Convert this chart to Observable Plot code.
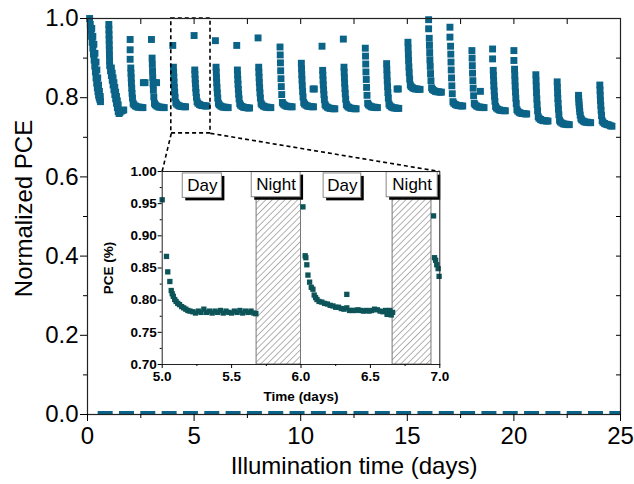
<!DOCTYPE html>
<html><head><meta charset="utf-8">
<script src="https://cdn.jsdelivr.net/npm/d3@7"></script>
<script src="https://cdn.jsdelivr.net/npm/@observablehq/plot@0.6"></script>
<style>
body{margin:0;background:#fff;}
#wrap{position:relative;width:634px;height:484px;}
#wrap svg{position:absolute;}
</style></head><body><div id="wrap"></div>
<script>
const FONT = '"Liberation Sans", Arial, Helvetica, sans-serif';
const BLUE = "#0b6388";
const TEAL = "#0c5458";

// ---- main chart data ----
const xTitle = "Illumination time (days)";
const yTitle = "Normalized PCE";
const majorX = [0, 5, 10, 15, 20, 25];
const minorX = [2.5, 7.5, 12.5, 17.5, 22.5];
const topX = [2.5, 5, 7.5, 10, 12.5, 15, 17.5, 20, 22.5];
const majorY = [0, 0.2, 0.4, 0.6, 0.8, 1.0];
const minorY = [0.1, 0.3, 0.5, 0.7, 0.9];
const rightY = [0.1, 0.2, 0.3, 0.4, 0.5, 0.6, 0.7, 0.8, 0.9];

// first two days (time, value)
const earlyTimes = [0.10,0.13,0.16,0.19,0.22,0.25,0.28,0.31,0.34,0.37,0.40,0.43,0.46,0.49,0.52,0.55,0.58,0.61,
  0.20,0.25,0.30,0.35,0.40,0.44,0.48,0.52,0.56,0.60,
  1.000,1.005,1.010,1.015,1.020,1.025,1.030,1.035,1.040,
  1.08,1.12,1.16,1.20,1.24,1.28,1.32,1.36,1.40,1.44,1.48,
  1.12,1.16,1.20,1.24,1.28,1.32,1.36,1.40,1.44,
  1.52,1.58,1.64,1.70];
const earlyValues = [1.000,0.985,0.970,0.955,0.940,0.925,0.910,0.895,0.880,0.865,0.850,0.837,0.825,0.815,0.806,0.800,0.795,0.790,
  0.975,0.955,0.935,0.912,0.890,0.870,0.850,0.832,0.816,0.803,
  0.985,0.972,0.959,0.946,0.933,0.920,0.907,0.894,0.881,
  0.868,0.856,0.844,0.832,0.820,0.808,0.797,0.786,0.775,0.765,0.760,
  0.875,0.862,0.850,0.838,0.826,0.814,0.803,0.792,0.782,
  0.763,0.766,0.768,0.769];

// daily cycles from day 2 to day 24
const cycleDays = [2,3,4,5,6,7,8,9,10,11,12,13,14,15,16,17,18,19,20,21,22,23,24];
const columnOffsets = [0.03,0.04,0.05,0.06,0.075,0.09,0.11,0.14];
const footOffsets = [0.18,0.25,0.32,0.39,0.46,0.53,0.60];
const peakValues = [
  [0.947,0.921,0.897],[0.947],[0.932],[0.957],[0.944],[0.932],[0.951],[],[],[0.930],[0.948],[],[],[],
  [0.997,0.974],[0.978,0.953],[],[0.923,0.898],[0.919,0.894],[],[],[],[]];
const columnValues = [
  [.875,.862,.850,.837,.824,.811,.799,.786],
  [.900,.884,.867,.851,.835,.819,.802,.786],
  [.877,.864,.852,.839,.826,.814,.801,.788],
  [.870,.859,.847,.836,.824,.813,.801,.790],
  [.877,.864,.851,.838,.825,.812,.799,.786],
  [.870,.858,.846,.834,.821,.809,.797,.785],
  [.877,.864,.851,.838,.825,.812,.799,.786],
  [.928,.908,.888,.868,.848,.828,.808,.788],
  [.887,.873,.859,.845,.830,.816,.802,.788],
  [.869,.857,.844,.832,.820,.808,.795,.783],
  [.877,.864,.850,.837,.823,.810,.796,.783],
  [.925,.905,.885,.865,.846,.826,.806,.786],
  [.886,.871,.857,.842,.828,.813,.799,.784],
  [.940,.925,.909,.894,.878,.863,.847,.832],
  [.950,.932,.914,.896,.879,.861,.843,.825],
  [.930,.910,.890,.870,.850,.830,.810,.790],
  [.919,.900,.881,.862,.843,.824,.805,.786],
  [.869,.856,.843,.830,.817,.804,.791,.778],
  [.872,.857,.843,.828,.814,.799,.785,.770],
  [.858,.843,.828,.813,.797,.782,.767,.752],
  [.840,.826,.812,.798,.785,.771,.757,.743],
  [.806,.798,.789,.781,.773,.765,.756,.748],
  [.832,.819,.806,.793,.781,.768,.755,.742]];
const footValues = [
  [.782,.779,.777,.776,.776,.775,.775],
  [.782,.779,.777,.776,.776,.775,.775],
  [.784,.781,.779,.778,.778,.777,.777],
  [.786,.783,.781,.780,.780,.779,.779],
  [.782,.779,.777,.776,.776,.775,.775],
  [.781,.778,.776,.775,.775,.774,.774],
  [.782,.779,.777,.776,.776,.775,.775],
  [.784,.781,.779,.778,.778,.777,.777],
  [.784,.781,.779,.778,.778,.777,.777],
  [.779,.776,.774,.773,.773,.772,.772],
  [.779,.776,.774,.773,.773,.772,.772],
  [.782,.779,.777,.776,.776,.775,.775],
  [.780,.777,.775,.774,.774,.773,.773],
  [.828,.825,.823,.822,.822,.821,.821],
  [.821,.818,.816,.815,.815,.814,.814],
  [.786,.783,.781,.780,.780,.779,.779],
  [.782,.779,.777,.776,.776,.775,.775],
  [.774,.771,.769,.768,.768,.767,.767],
  [.766,.763,.761,.760,.760,.759,.759],
  [.748,.745,.743,.742,.742,.741,.741],
  [.739,.736,.734,.733,.733,.732,.732],
  [.744,.741,.739,.738,.738,.737,.737],
  [.738,.735,.733,.732,.731,.729,.728]];
const extraTimes = [2.62,2.70,3.16,3.24,10.58,10.64,14.52,14.58,18.43];
const extraValues = [.838,.838,.838,.838,.822,.822,.822,.822,.816];

// dashed baseline series near zero
const baselineStart = 0.5, baselineEnd = 25, baselineValue = 0.0045;

// zoom annotation
const zoomBox = {x1: 3.93, x2: 5.77, y1: 0.71, y2: 1.0};
const connectors = [
  {x1: 3.93, y1: 0.71, x2: 3.50, y2: 0.6136},
  {x1: 5.77, y1: 0.71, x2: 16.52, y2: 0.6136}];

// ---- inset data ----
const insetXTitle = "Time (days)";
const insetYTitle = "PCE (%)";
const insetMajorX = [5.0, 5.5, 6.0, 6.5, 7.0];
const insetMinorX = [5.25, 5.75, 6.25, 6.75];
const insetMajorY = [0.70, 0.75, 0.80, 0.85, 0.90, 0.95, 1.00];
const insetMinorY = [0.725, 0.775, 0.825, 0.875, 0.925, 0.975];
const nights = [{x1: 5.68, x2: 6.0}, {x1: 6.66, x2: 6.94}];
const nightTop = 0.957;
const insetLabels = [
  {label: "Day", x1: 5.148, x2: 5.43, y1: 0.959, y2: 0.997},
  {label: "Night", x1: 5.645, x2: 5.997, y1: 0.960, y2: 0.999},
  {label: "Day", x1: 6.163, x2: 6.434, y1: 0.959, y2: 0.997},
  {label: "Night", x1: 6.617, x2: 6.985, y1: 0.960, y2: 0.999}];
const insetTimes = [5.000,5.031,5.040,5.055,5.065,5.072,5.080,5.090,5.100,5.112,5.125,5.140,5.155,5.170,5.185,5.200,
  5.22,5.24,5.26,5.28,5.30,5.32,5.34,5.36,5.38,5.40,5.42,5.44,5.46,5.48,5.50,5.52,5.54,5.56,5.58,5.60,5.62,5.64,5.66,5.675,
  6.014,6.030,6.035,6.042,6.050,6.062,6.074,6.086,6.095,6.105,6.115,6.13,6.15,6.17,6.19,6.21,6.23,6.25,6.27,6.29,
  6.31,6.33,6.33,6.35,6.37,6.39,6.41,6.43,6.45,6.47,6.49,6.51,6.53,6.55,6.57,6.59,6.61,6.62,6.63,6.64,6.65,6.66,
  6.955,6.962,6.970,6.978,6.988,6.995];
const insetValues = [.956,.868,.844,.829,.815,.810,.806,.801,.798,.795,.793,.790,.788,.786,.784,.783,
  .782,.780,.783,.781,.786,.781,.783,.780,.783,.781,.784,.780,.783,.781,.780,.783,.781,.784,.780,.783,.781,.783,.780,.779,
  .945,.869,.866,.855,.839,.828,.820,.817,.808,.804,.801,.798,.797,.795,.794,.792,.791,.789,.789,.787,
  .786,.809,.788,.784,.784,.784,.785,.784,.783,.784,.783,.784,.786,.785,.783,.782,.784,.778,.781,.784,.777,.781,
  .931,.866,.862,.855,.849,.837];

// ---- build tables ----
const mainPoints = [];
earlyTimes.forEach((t, i) => mainPoints.push({t, v: earlyValues[i]}));
cycleDays.forEach((d, i) => {
  peakValues[i].forEach(v => mainPoints.push({t: d, v}));
  columnValues[i].forEach((v, j) => mainPoints.push({t: d + columnOffsets[j], v}));
  footValues[i].forEach((v, j) => mainPoints.push({t: d + footOffsets[j], v}));
});
extraTimes.forEach((t, i) => mainPoints.push({t, v: extraValues[i]}));
const insetPoints = insetTimes.map((t, i) => ({t, v: insetValues[i]}));
const blank = () => "";

const main = Plot.plot({
  width: 634, height: 484,
  marginLeft: 87, marginRight: 14, marginTop: 18, marginBottom: 70,
  style: {fontFamily: FONT, fontSize: "24px", color: "#000", background: "transparent", overflow: "visible"},
  x: {domain: [0, 25]},
  y: {domain: [0, 1]},
  marks: [
    Plot.ruleY([baselineValue], {x1: baselineStart, x2: baselineEnd, stroke: BLUE, strokeWidth: 3.5, strokeDasharray: "15,6.32"}),
    Plot.dot(mainPoints, {x: "t", y: "v", symbol: "square", r: 3.9, fill: BLUE, stroke: "none"}),
    Plot.rect([zoomBox], {x1: "x1", x2: "x2", y1: "y1", y2: "y2", fill: "none", stroke: "#000", strokeWidth: 1.6, strokeDasharray: "4,3"}),
    Plot.link(connectors, {x1: "x1", y1: "y1", x2: "x2", y2: "y2", stroke: "#000", strokeWidth: 1.6, strokeDasharray: "4,3"}),
    Plot.frame({stroke: "#222", strokeWidth: 1.2}),
    Plot.axisY(majorY, {anchor: "left", tickSize: 7, tickPadding: 2, tickFormat: d3.format(".1f"), label: null}),
    Plot.axisY(minorY, {anchor: "left", tickSize: 4, tickFormat: blank, label: null}),
    Plot.axisY(rightY, {anchor: "right", tickSize: -5, tickFormat: blank, label: null}),
    Plot.axisX(majorX, {anchor: "bottom", tickSize: 7, tickPadding: 5, label: null}),
    Plot.axisX(minorX, {anchor: "bottom", tickSize: 4, tickFormat: blank, label: null}),
    Plot.axisX(topX, {anchor: "top", tickSize: -5, tickFormat: blank, label: null}),
    Plot.text([xTitle], {frameAnchor: "bottom", dy: 59, text: d => d, textAnchor: "middle"}),
    Plot.text([yTitle], {frameAnchor: "left", dx: -63, dy: -8, rotate: -90, text: d => d, textAnchor: "middle"})
  ]
});
main.style.left = "0px"; main.style.top = "0px";

const inset = Plot.plot({
  width: 350, height: 250,
  marginLeft: 66.7, marginRight: 5.7, marginTop: 11, marginBottom: 46,
  style: {fontFamily: FONT, fontSize: "13.5px", fontWeight: "bold", color: "#000", background: "transparent", overflow: "visible"},
  x: {domain: [5, 7]},
  y: {domain: [0.70, 1.00]},
  marks: [
    Plot.rect(nights, {x1: "x1", x2: "x2", y1: 0.70, y2: nightTop, fill: "url(#hatch)", stroke: "#777", strokeWidth: 1}),
    Plot.rect(insetLabels, {x1: "x1", x2: "x2", y1: "y1", y2: "y2", fill: "#000", dx: 3, dy: 3}),
    Plot.rect(insetLabels, {x1: "x1", x2: "x2", y1: "y1", y2: "y2", fill: "#fff", stroke: "#888", strokeWidth: 1}),
    Plot.text(insetLabels, {x: d => (d.x1 + d.x2) / 2, y: d => (d.y1 + d.y2) / 2, text: "label", fontSize: 17, fontWeight: "normal", fill: "#000"}),
    Plot.dot(insetPoints, {x: "t", y: "v", symbol: "square", r: 3.0, fill: TEAL, stroke: "none"}),
    Plot.frame({stroke: "#222", strokeWidth: 1}),
    Plot.axisY(insetMajorY, {anchor: "left", tickSize: 4, tickPadding: 1.5, tickFormat: d3.format(".2f"), label: null}),
    Plot.axisY(insetMinorY, {anchor: "left", tickSize: 2, tickFormat: blank, label: null}),
    Plot.axisX(insetMajorX, {anchor: "bottom", tickSize: 4, tickPadding: 3, tickFormat: d3.format(".1f"), label: null}),
    Plot.axisX(insetMinorX, {anchor: "bottom", tickSize: 2, tickFormat: blank, label: null}),
    Plot.text([insetXTitle], {frameAnchor: "bottom", dy: 36, text: d => d, textAnchor: "middle"}),
    Plot.text([insetYTitle], {frameAnchor: "left", dx: -54, rotate: -90, text: d => d, textAnchor: "middle"})
  ]
});
inset.style.left = "95px"; inset.style.top = "160px";

// hatch pattern for night periods
const NS = "http://www.w3.org/2000/svg";
const defs = document.createElementNS(NS, "defs");
const pat = document.createElementNS(NS, "pattern");
pat.setAttribute("id", "hatch");
pat.setAttribute("patternUnits", "userSpaceOnUse");
pat.setAttribute("width", "4.5");
pat.setAttribute("height", "4.5");
pat.setAttribute("patternTransform", "rotate(45)");
const bg = document.createElementNS(NS, "rect");
bg.setAttribute("width", "4.5"); bg.setAttribute("height", "4.5"); bg.setAttribute("fill", "#fff");
const ln = document.createElementNS(NS, "line");
ln.setAttribute("x1", "0"); ln.setAttribute("y1", "0"); ln.setAttribute("x2", "0"); ln.setAttribute("y2", "4.5");
ln.setAttribute("stroke", "#555"); ln.setAttribute("stroke-width", "0.9");
pat.appendChild(bg); pat.appendChild(ln); defs.appendChild(pat);
inset.insertBefore(defs, inset.firstChild);

const wrap = document.getElementById("wrap");
wrap.appendChild(main);
wrap.appendChild(inset);
</script></body></html>
